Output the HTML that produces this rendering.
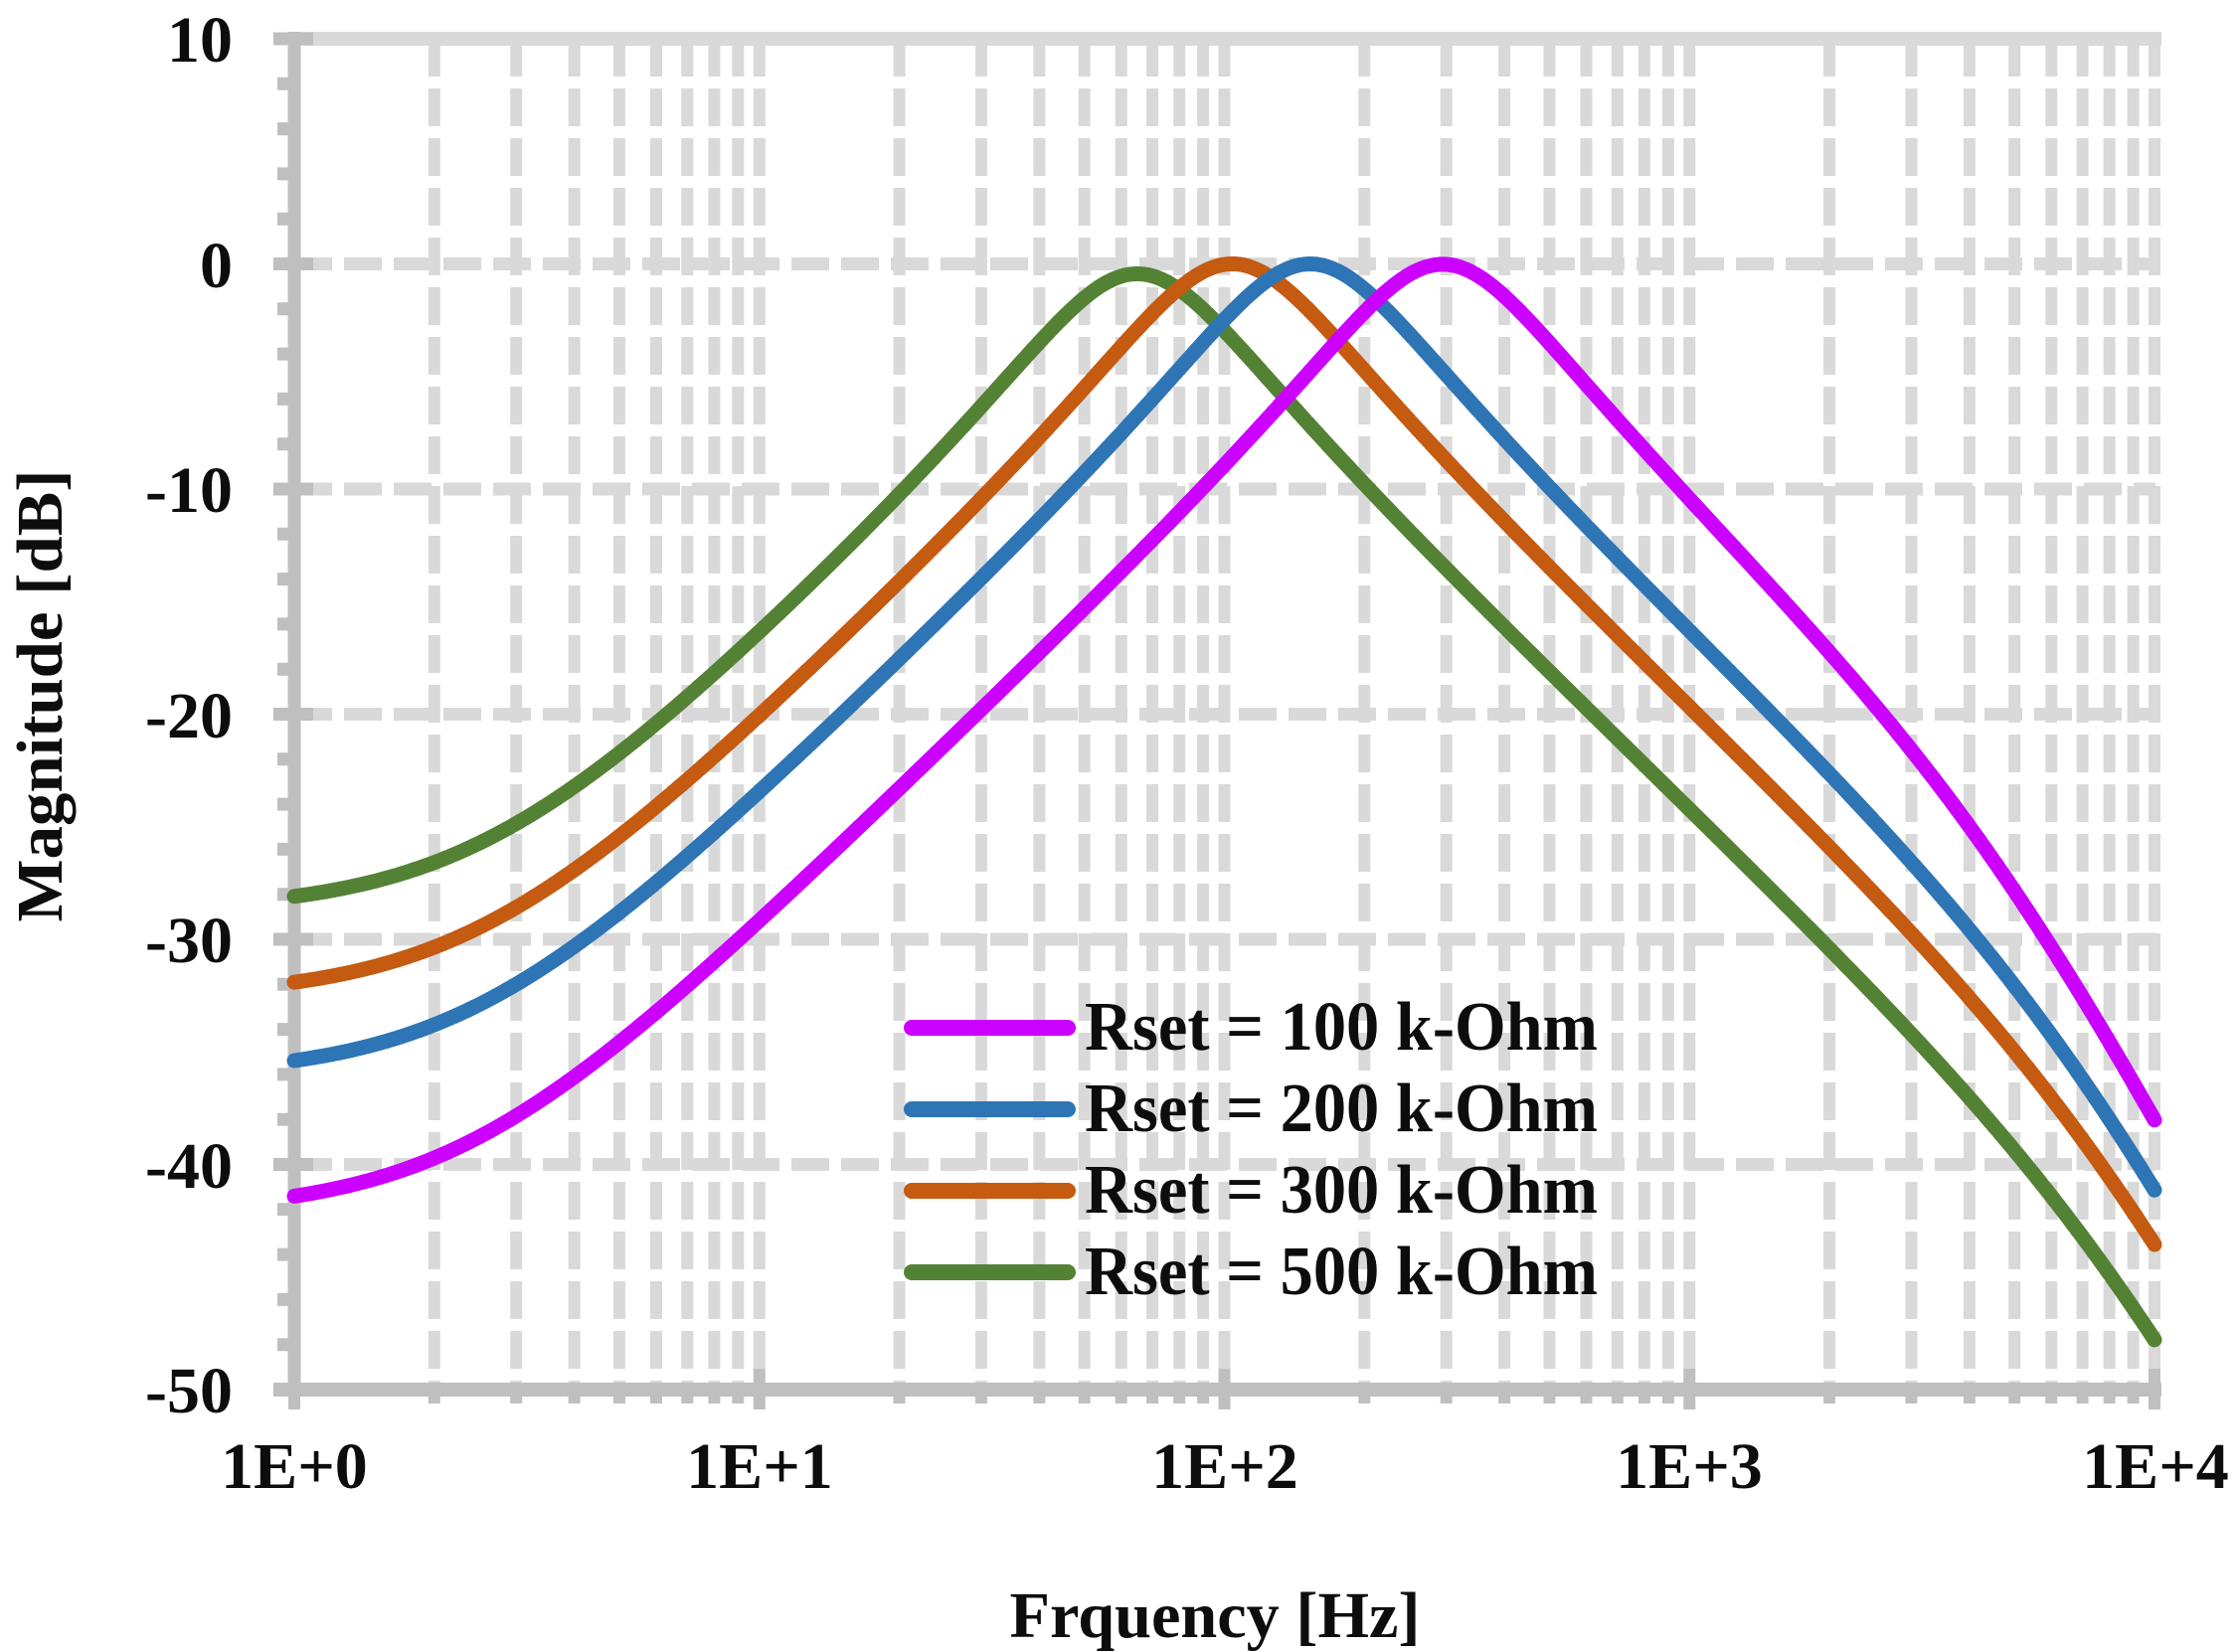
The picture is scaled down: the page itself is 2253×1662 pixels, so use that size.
<!DOCTYPE html>
<html><head><meta charset="utf-8"><style>
html,body{margin:0;padding:0;background:#fff;}
svg{display:block;}
text{font-family:"Liberation Serif","Times New Roman",serif;font-weight:bold;fill:#0d0d0d;}
</style></head><body>
<svg id="s" width="2253" height="1662" viewBox="0 0 2253 1662" xmlns="http://www.w3.org/2000/svg">
<g id="grid"></g>
<g id="axes"></g>
<g id="curves" fill="none" stroke-width="15" stroke-linejoin="round" stroke-linecap="round"></g>
<g font-size="66" text-anchor="end">
<text x="234" y="62">10</text>
<text x="234" y="289">0</text>
<text x="234" y="515">-10</text>
<text x="234" y="742">-20</text>
<text x="234" y="968">-30</text>
<text x="234" y="1195">-40</text>
<text x="234" y="1421">-50</text>
</g>
<g font-size="66" text-anchor="middle">
<text x="296" y="1497">1E+0</text>
<text x="764" y="1497">1E+1</text>
<text x="1232" y="1497">1E+2</text>
<text x="1699" y="1497">1E+3</text>
<text x="2168" y="1497">1E+4</text>
<text x="1222" y="1647" textLength="413" lengthAdjust="spacingAndGlyphs">Frquency [Hz]</text>
<text transform="translate(62,700) rotate(-90)" x="0" y="0" textLength="455" lengthAdjust="spacingAndGlyphs">Magnitude [dB]</text>
</g>
<g stroke-width="16" stroke-linecap="round">
<line x1="917" y1="1034" x2="1074" y2="1034" stroke="#cc00ff"/>
<line x1="917" y1="1116" x2="1074" y2="1116" stroke="#2e75b6"/>
<line x1="917" y1="1198" x2="1074" y2="1198" stroke="#c55a11"/>
<line x1="917" y1="1280" x2="1074" y2="1280" stroke="#548235"/>
</g>
<g font-size="70">
<text x="1091" y="1056" textLength="516" lengthAdjust="spacingAndGlyphs">Rset = 100 k-Ohm</text>
<text x="1091" y="1138" textLength="516" lengthAdjust="spacingAndGlyphs">Rset = 200 k-Ohm</text>
<text x="1091" y="1220" textLength="516" lengthAdjust="spacingAndGlyphs">Rset = 300 k-Ohm</text>
<text x="1091" y="1302" textLength="516" lengthAdjust="spacingAndGlyphs">Rset = 500 k-Ohm</text>
</g>
</svg>
<script>
var NS="http://www.w3.org/2000/svg";
function X(f){return 296+467.75*Math.log10(f);}
function Y(db){return 265.5-22.65*db;}
function el(p,t,a){var e=document.createElementNS(NS,t);for(var k in a)e.setAttribute(k,a[k]);p.appendChild(e);return e;}
var g=document.getElementById("grid"),ax=document.getElementById("axes");
for(var d=0;d<4;d++){for(var k=1;k<=9;k++){var f=k*Math.pow(10,d);if(f===1)continue;var x=X(f);
el(g,"line",{x1:x,y1:39,x2:x,y2:1398,stroke:"#d9d9d9","stroke-width":12,"stroke-dasharray":"38 12"});}}
el(g,"line",{x1:X(10000),y1:39,x2:X(10000),y2:1398,stroke:"#d9d9d9","stroke-width":12,"stroke-dasharray":"38 12"});
for(var v=0;v>=-40;v-=10){el(g,"line",{x1:296,y1:Y(v),x2:2168,y2:Y(v),stroke:"#d9d9d9","stroke-width":13,"stroke-dasharray":"38 12"});}
el(g,"line",{x1:296,y1:39,x2:2174,y2:39,stroke:"#d9d9d9","stroke-width":14});
el(ax,"line",{x1:296,y1:32,x2:296,y2:1405,stroke:"#bfbfbf","stroke-width":13});
el(ax,"line",{x1:275,y1:1398,x2:2174,y2:1398,stroke:"#bfbfbf","stroke-width":14});
for(var v=10;v>=-50;v-=2){var y=Y(v);
 if(v%10===0) el(ax,"line",{x1:275,y1:y,x2:315,y2:y,stroke:"#bfbfbf","stroke-width":13});
 else el(ax,"line",{x1:279,y1:y,x2:296,y2:y,stroke:"#bfbfbf","stroke-width":13});}
for(var d=0;d<5;d++){for(var k=1;k<=9;k++){var f=k*Math.pow(10,d);if(f>10000)break;var x=X(f);
 if(k===1) el(ax,"line",{x1:x,y1:1377,x2:x,y2:1418,stroke:"#bfbfbf","stroke-width":12});
 else el(ax,"line",{x1:x,y1:1398,x2:x,y2:1412,stroke:"#bfbfbf","stroke-width":12});}}
var cv=document.getElementById("curves");
var S=[
 {c:"#548235",f0:65,a:0.0385,fp:8800,g:0.95},
 {c:"#c55a11",f0:104,a:0.0235,fp:8300,g:1},
 {c:"#2e75b6",f0:153,a:0.0157,fp:7000,g:1},
 {c:"#cc00ff",f0:295,a:0.0078,fp:4700,g:1}
];
S.forEach(function(s){var d="";for(var i=0;i<=800;i++){var f=Math.pow(10,4*i/800);var x=f/s.f0;
 var nr=s.a,ni=x; var dr=1-x*x,di=x;
 var m=Math.sqrt(nr*nr+ni*ni)/Math.sqrt(dr*dr+di*di)/Math.sqrt(1+Math.pow(f/s.fp,2))*s.g;
 var db=20*Math.log10(m);d+=(i?"L":"M")+X(f).toFixed(1)+" "+Y(db).toFixed(1);}
 el(cv,"path",{d:d,stroke:s.c});});
</script>
</body></html>
